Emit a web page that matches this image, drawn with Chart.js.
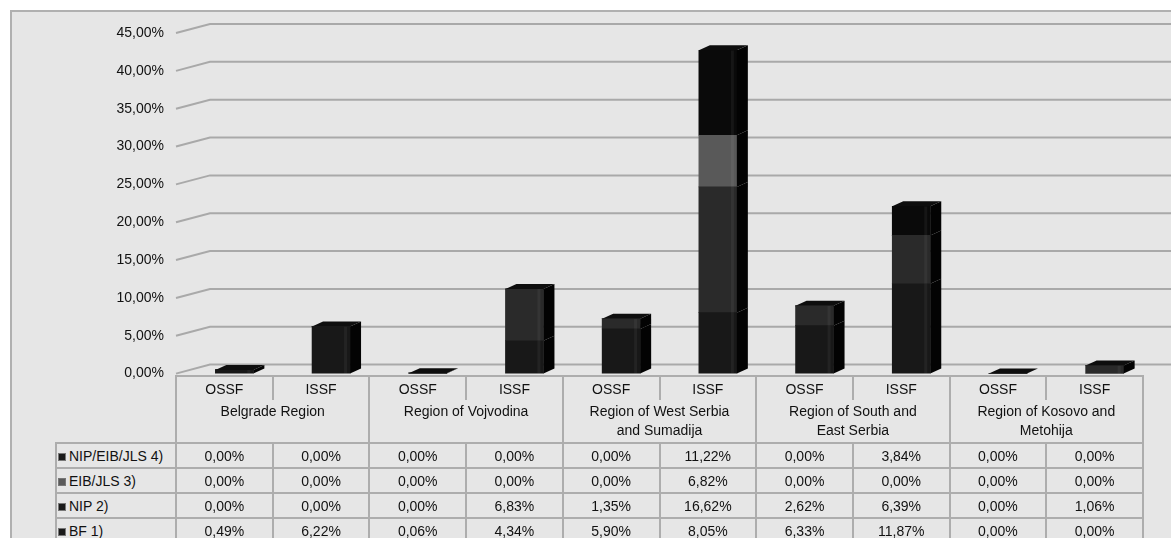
<!DOCTYPE html>
<html>
<head>
<meta charset="utf-8">
<script src="https://cdn.jsdelivr.net/npm/chart.js@4.4.1/dist/chart.umd.min.js"></script>
<style>
  html, body { margin: 0; padding: 0; background: #fff; }
  body { width: 1171px; height: 538px; position: relative; overflow: hidden;
         font-family: "Liberation Sans", Arial, sans-serif; color: #111; }
  #frame { position: absolute; left: 10px; top: 10px; width: 1200px; height: 560px;
           background: #e6e6e6; border-left: 2px solid #b0b0b0; border-top: 2px solid #b0b0b0; }
  #grafico { position: absolute; left: 0; top: 0; }
  .cel { position: absolute; box-sizing: border-box; font-size: 14px; text-align: center;
         display: flex; align-items: center; justify-content: center; line-height: 19px; }
  .lin { position: absolute; background: #adadad; }
  .chave { display: inline-block; width: 8px; height: 8px; margin-right: 3px;
           border: 1px solid #777; box-sizing: border-box; }
</style>
</head>
<body>
<div id="frame"></div>
<canvas id="grafico" width="1171" height="404"></canvas>
<div id="tabela"></div>
<script>
// categorias (colunas) e regiões
const categorias = ["OSSF", "ISSF", "OSSF", "ISSF", "OSSF", "ISSF", "OSSF", "ISSF", "OSSF", "ISSF"];
const regioes = [
  "Belgrade Region",
  "Region of Vojvodina",
  "Region of West Serbia and Sumadija",
  "Region of South and East Serbia",
  "Region of Kosovo and Metohija"
];

// séries (%)
const serieBF = [0.49, 6.22, 0.06, 4.34, 5.90, 8.05, 6.33, 11.87, 0.00, 0.00];
const serieNIP = [0.00, 0.00, 0.00, 6.83, 1.35, 16.62, 2.62, 6.39, 0.00, 1.06];
const serieEIB = [0.00, 0.00, 0.00, 0.00, 0.00, 6.82, 0.00, 0.00, 0.00, 0.00];
const serieNipEib = [0.00, 0.00, 0.00, 0.00, 0.00, 11.22, 0.00, 3.84, 0.00, 0.00];

const nomesSeries = ["NIP/EIB/JLS 4)", "EIB/JLS 3)", "NIP 2)", "BF 1)"];

// eixo y
const yMin = 0, yMax = 45, yPasso = 5;

function fmt(v) {
  return v.toFixed(2).replace(".", ",") + "%";
}

// linhas de grade em "3D" (inclinadas na esquerda)
const grade3d = {
  id: "grade3d",
  beforeDatasetsDraw(chart) {
    const ctx = chart.ctx;
    const y = chart.scales.y;
    ctx.save();
    ctx.strokeStyle = "#a9a9a9";
    ctx.lineWidth = 2;
    for (let v = yMin; v <= yMax; v += yPasso) {
      const py = y.getPixelForValue(v);
      ctx.beginPath();
      ctx.moveTo(176, py);
      ctx.lineTo(210, py - 9);
      ctx.lineTo(1171, py - 9);
      ctx.stroke();
    }
    ctx.restore();
  }
};

// faces laterais e topo das barras
const barras3d = {
  id: "barras3d",
  afterDatasetsDraw(chart) {
    const ctx = chart.ctx;
    const dx = 11, dy = 5;
    const metas = chart.data.datasets.map((d, i) => chart.getDatasetMeta(i));
    ctx.save();
    for (let j = 0; j < categorias.length; j++) {
      let topo = null;
      metas.forEach((m, i) => {
        const el = m.data[j];
        const p = el.getProps(["x", "y", "base", "width"], true);
        const val = chart.data.datasets[i].data[j];
        const dir = p.x + p.width / 2;
        if (val > 0) {
          ctx.fillStyle = "#030303";
          ctx.beginPath();
          ctx.moveTo(dir, p.y);
          ctx.lineTo(dir + dx, p.y - dy);
          ctx.lineTo(dir + dx, p.base - dy);
          ctx.lineTo(dir, p.base);
          ctx.closePath();
          ctx.fill();
          // reflexo fraco perto da borda direita da face da frente
          ctx.fillStyle = "rgba(255,255,255,0.05)";
          ctx.fillRect(dir - 6, p.y, 3, p.base - p.y);
        }
        if (topo === null || p.y < topo.y) topo = p;
      });
      const esq = topo.x - topo.width / 2, dir = topo.x + topo.width / 2;
      ctx.fillStyle = "#0e0e0e";
      ctx.beginPath();
      ctx.moveTo(esq, topo.y);
      ctx.lineTo(esq + dx, topo.y - dy);
      ctx.lineTo(dir + dx, topo.y - dy);
      ctx.lineTo(dir, topo.y);
      ctx.closePath();
      ctx.fill();
    }
    ctx.restore();
  }
};

const cores = {
  bf: "#181818",
  nip: "#2a2a2a",
  eib: "#595959",
  nipEib: "#0a0a0a"
};

new Chart(document.getElementById("grafico"), {
  type: "bar",
  data: {
    labels: categorias,
    datasets: [
      { label: "BF 1)", data: serieBF, backgroundColor: cores.bf },
      { label: "NIP 2)", data: serieNIP, backgroundColor: cores.nip },
      { label: "EIB/JLS 3)", data: serieEIB, backgroundColor: cores.eib },
      { label: "NIP/EIB/JLS 4)", data: serieNipEib, backgroundColor: cores.nipEib }
    ]
  },
  options: {
    responsive: false,
    animation: false,
    devicePixelRatio: 1,
    layout: { padding: { top: 33, bottom: 6, left: 0, right: 18 } },
    datasets: { bar: { barThickness: 38, borderWidth: 0 } },
    plugins: { legend: { display: false }, tooltip: { enabled: false } },
    scales: {
      x: { stacked: true, display: false },
      y: {
        stacked: true,
        min: yMin,
        max: yMax,
        grid: { display: false, drawTicks: false },
        border: { display: false },
        ticks: {
          stepSize: yPasso,
          padding: 22,
          color: "#111",
          font: { family: "Liberation Sans", size: 14 },
          callback: v => fmt(v)
        },
        afterFit: s => { s.width = 186; }
      }
    }
  },
  plugins: [grade3d, barras3d]
});

// tabela de dados embaixo do gráfico
const tab = document.getElementById("tabela");
const x0 = 176, larg = 96.7, xLab = 55;
const topo = 375, hCab = 25, hReg = 42, hLin = 25;
const yDados = topo + hCab + hReg + 1;

function cel(x, y, w, h, html) {
  const d = document.createElement("div");
  d.className = "cel";
  d.style.left = x + "px"; d.style.top = y + "px";
  d.style.width = w + "px"; d.style.height = h + "px";
  d.innerHTML = html;
  tab.appendChild(d);
  return d;
}
function lin(x, y, w, h) {
  const d = document.createElement("div");
  d.className = "lin";
  d.style.left = x + "px"; d.style.top = y + "px";
  d.style.width = w + "px"; d.style.height = h + "px";
  tab.appendChild(d);
}

categorias.forEach((c, i) => cel(x0 + i * larg, topo + 3, larg, hCab - 2, c));
regioes.forEach((r, k) => {
  const d = cel(x0 + k * 2 * larg + 22, topo + hCab - 2, 2 * larg - 44, hReg, r);
  d.style.alignItems = "flex-start";
  d.style.paddingTop = "4px";
});

const linhas = [serieNipEib, serieEIB, serieNIP, serieBF];
const coresChave = ["#1a1a1a", "#5a5a5a", "#1a1a1a", "#1a1a1a"];
linhas.forEach((s, r) => {
  const y = yDados + r * hLin;
  const lab = cel(xLab + 3, y + 1, x0 - xLab - 3, hLin,
    '<span class="chave" style="background:' + coresChave[r] + '"></span>' + nomesSeries[r]);
  lab.style.justifyContent = "flex-start";
  s.forEach((v, i) => cel(x0 + i * larg, y + 1, larg, hLin, fmt(v)));
});

// linhas da tabela
const xFim = x0 + 10 * larg;
lin(x0, topo, xFim - x0 + 1, 2);
for (let k = 0; k <= 5; k++) lin(x0 + k * 2 * larg - 1, topo, 2, 200);
for (let k = 0; k < 5; k++) lin(x0 + (2 * k + 1) * larg - 1, topo, 2, hCab);
for (let r = 0; r <= 4; r++) lin(xLab, yDados - 1 + r * hLin, xFim - xLab + 1, 2);
lin(xLab, yDados - 1, 2, 200);
for (let i = 0; i < 10; i++) lin(x0 + i * larg - 1, yDados, 2, 200);
</script>
</body>
</html>
